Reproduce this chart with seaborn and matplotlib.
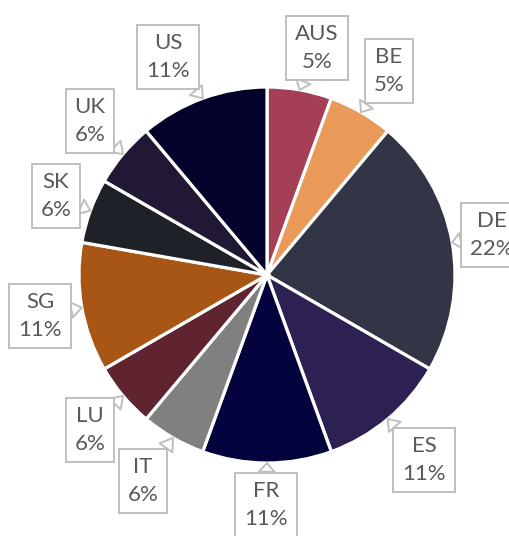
import numpy as np
import matplotlib
matplotlib.use("Agg")
import matplotlib.pyplot as plt
import seaborn as sns

sns.set_theme(style="white")
plt.rcParams['font.family'] = ['Lato', 'DejaVu Sans']

countries = ["AUS", "BE", "DE", "ES", "FR", "IT", "LU", "SG", "SK", "UK", "US"]
counts = [1, 1, 4, 2, 2, 1, 1, 2, 1, 1, 2]
pct_labels = ["5%", "5%", "22%", "11%", "11%", "6%", "6%", "11%", "6%", "6%", "11%"]
colors = ["#A43F55", "#E99A59", "#313545", "#2C2152", "#04033D", "#808080",
          "#602431", "#A85616", "#1F2129", "#211836", "#03022A"]

# callout box centres in pixels (y from top)
box_pos = [(317, 48), (389, 71), (492, 235), (424, 460), (266, 505), (143, 481),
           (90, 430), (40, 316), (56, 196), (90, 121), (168, 57)]

W, H = 509, 536
fig = plt.figure(figsize=(W / 100, H / 100), dpi=100)
ax = fig.add_axes([0, 0, 1, 1])

cx, cy, r = 267, H - 275, 188
wedges, _ = ax.pie(counts, colors=colors, startangle=90, counterclock=False,
                   center=(cx, cy), radius=r, frame=True,
                   wedgeprops=dict(edgecolor="white", linewidth=2.3))
ax.set_xlim(0, W)
ax.set_ylim(0, H)
ax.axis("off")

for w, name, pct, (bx, by) in zip(wedges, countries, pct_labels, box_pos):
    mid = np.deg2rad((w.theta1 + w.theta2) / 2)
    tip = (cx + r * np.cos(mid), cy + r * np.sin(mid))
    ax.annotate(f"{name}\n{pct}", xy=tip, xytext=(bx, H - by),
                ha="center", va="center", fontsize=16, color="#595959",
                linespacing=1.45,
                bbox=dict(boxstyle="square,pad=0.4", fc="white", ec="#BFBFBF", lw=1.4),
                arrowprops=dict(arrowstyle="wedge,tail_width=0.7,shrink_factor=0.5",
                                fc="white", ec="#BFBFBF", lw=1.4, shrinkA=0, shrinkB=0))

fig.savefig("out.png", dpi=100)
